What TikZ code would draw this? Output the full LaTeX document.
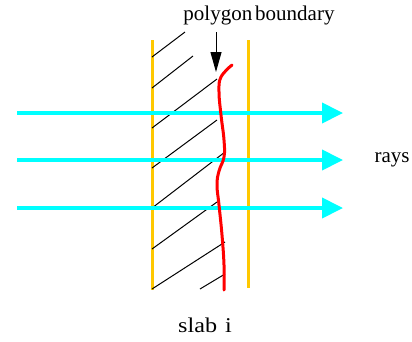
\documentclass[tikz,border=0pt]{standalone}
\usepackage{fontspec}
\setmainfont{Liberation Serif}
\usetikzlibrary{arrows.meta}
\definecolor{raycyan}{RGB}{0,255,255}
\definecolor{slabyellow}{RGB}{255,200,0}
\begin{document}
\begin{tikzpicture}[x=1pt,y=-1pt,
    ray/.style={raycyan, line width=4pt, -{Triangle[length=21pt,width=20pt]}},
    slabline/.style={slabyellow, line width=3pt},
    hatch/.style={black, line width=1pt},
    label/.style={font=\fontsize{21}{24}\selectfont, inner sep=0pt}]
    \useasboundingbox (0,0) rectangle (412,341);

    % Draw the slab walls
    \draw[slabline] (152,40) -- (152,290);
    \draw[slabline] (248,40) -- (248,288);

    % Add hatching
    \draw[hatch] (152,57) -- (185,32);
    \draw[hatch] (152,88) -- (193,56);
    \draw[hatch] (152,128) -- (217,79);
    \draw[hatch] (152,168) -- (217,120);
    \draw[hatch] (152,208) -- (225,152);
    \draw[hatch] (152,249) -- (217,202);
    \draw[hatch] (152,289) -- (225,242);
    \draw[hatch] (200,289) -- (225,274);

    % Add rays
    \foreach \y [count=\i] in {113,160,208} {
        \coordinate (in\i) at (17,\y);
        \coordinate (out\i) at (343,\y);
        \draw[ray] (in\i) -- (out\i);
    }

    % Draw the polygon boundary
    \draw[red, line width=3pt, line cap=round] plot[smooth, tension=0.7] coordinates
        {(232,65) (221,77) (219,92) (221,115) (224,140) (224,157) (219,171)
         (217,185) (219,205) (222,235) (224,265) (224,290)};

    % Add some text
    \node[label] (poly) at (259,15) {polygon\hspace{3pt}boundary};
    \node[label] (rays) at (392,160) {rays};
    \node[label] (slab) at (205,325) {\scalebox{1.15}[1]{slab\hspace{7pt}i}};

    % Add arrow
    \coordinate (tip) at (216,72);
    \draw[line width=1pt, -{Triangle[length=20pt,width=11pt]}] (216,32) -- (tip);
\end{tikzpicture}
\end{document}
